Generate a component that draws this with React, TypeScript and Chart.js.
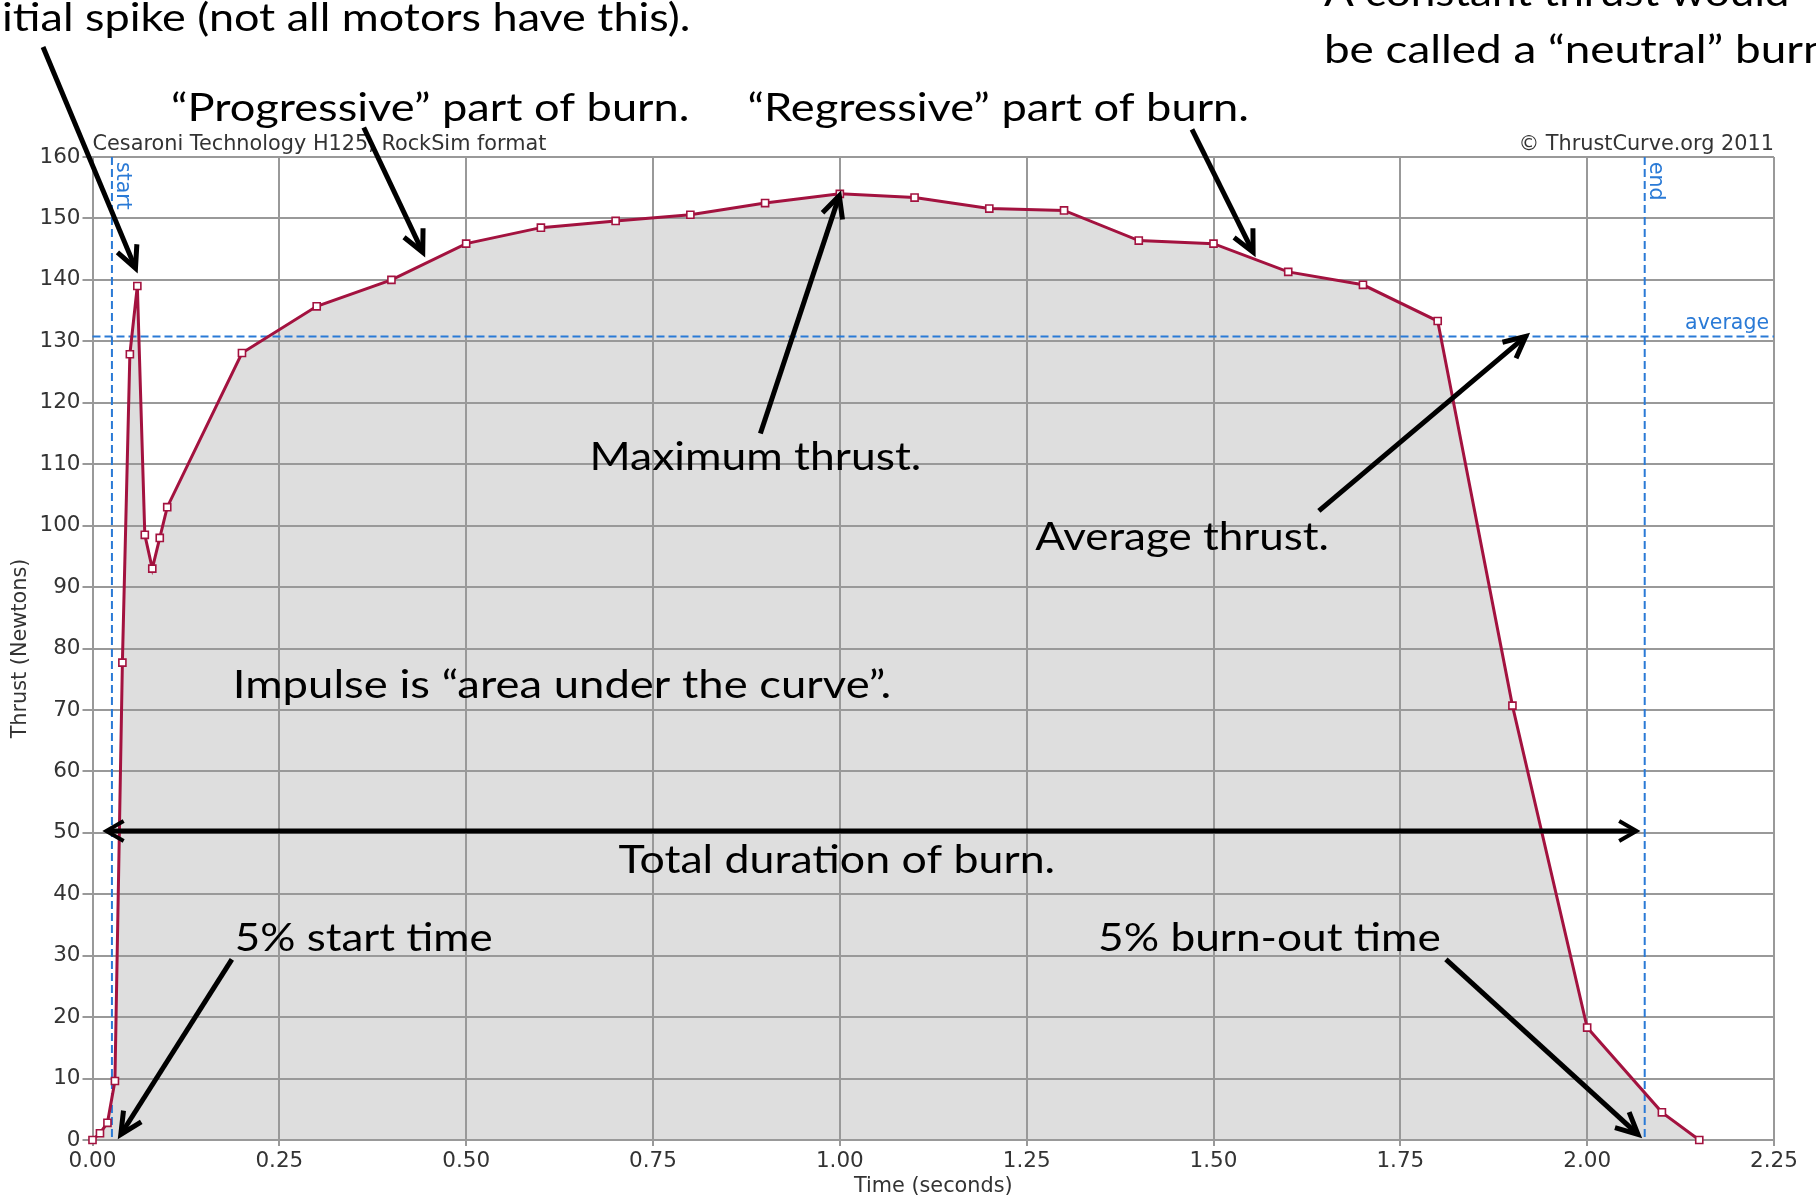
import React, { useEffect, useRef } from 'react';
import { Chart, registerables } from 'chart.js';

Chart.register(...registerables);

// ---------------- data ----------------
const TIME_S = [0, 0.01, 0.02, 0.03, 0.04, 0.05, 0.06, 0.07, 0.08, 0.09, 0.1, 0.2, 0.3, 0.4, 0.5, 0.6, 0.7, 0.8, 0.9, 1.0, 1.1, 1.2, 1.3, 1.4, 1.5, 1.6, 1.7, 1.8, 1.9, 2.0, 2.1, 2.15];
const THRUST_N = [0, 1.1, 2.8, 9.6, 77.7, 127.9, 139.0, 98.5, 93.0, 98.0, 103.0, 128.1, 135.7, 140.0, 145.9, 148.5, 149.6, 150.6, 152.5, 154.0, 153.4, 151.6, 151.3, 146.4, 145.9, 141.3, 139.2, 133.3, 70.7, 18.3, 4.5, 0];

const START_TIME = 0.026;
const END_TIME = 2.077;
const AVG_THRUST = 130.8;
const MARKER_LABELS = ['start', 'end', 'average'];

const X_MIN = 0;
const X_MAX = 2.25;
const X_STEP = 0.25;
const Y_MIN = 0;
const Y_MAX = 160;
const Y_STEP = 10;

const CHART_TITLE = 'Cesaroni Technology H125, RockSim format';
const COPYRIGHT = '© ThrustCurve.org 2011';
const X_TITLE = 'Time (seconds)';
const Y_TITLE = 'Thrust (Newtons)';

const NOTE_TEXTS = [
  'Initial spike (not all motors have this).',
  '“Progressive” part of burn.',
  '“Regressive” part of burn.',
  'A constant thrust would',
  'be called a “neutral” burn',
  'Maximum thrust.',
  'Average thrust.',
  'Impulse is “area under the curve”.',
  'Total duration of burn.',
  '5% start time',
  '5% burn-out time',
];

// ---------------- annotation layout (data units: [tLeft, tRight, baseline thrust]) ----------------
const NOTE_BOXES: Array<[number, number, number]> = [
  [-0.121, 0.8001, 180.5],
  [0.1049, 0.7988, 165.8],
  [0.8763, 1.5475, 165.8],
  [1.6477, 2.2707, 184.5],
  [1.6477, 2.323, 175.3],
  [0.6651, 1.109, 109.1],
  [1.2614, 1.6544, 96.1],
  [0.1878, 1.0689, 72.0],
  [0.7039, 1.2881, 43.5],
  [0.1905, 0.5354, 30.8],
  [1.3456, 1.8041, 30.8],
];
const NOTE_HIDDEN_PREFIX = [2, 0, 0, 0, 0, 0, 0, 0, 0, 0, 0];

const ARROWS: Array<{ from: [number, number]; to: [number, number]; both?: boolean }> = [
  { from: [-0.0662, 177.9], to: [0.0575, 141.9] },
  { from: [0.363, 164.8], to: [0.4419, 144.5] },
  { from: [1.4712, 164.5], to: [1.553, 144.5] },
  { from: [0.8937, 115.0], to: [0.9993, 153.7] },
  { from: [1.641, 102.4], to: [1.9178, 130.8] },
  { from: [0.0185, 50.3], to: [2.066, 50.3], both: true },
  { from: [0.1865, 29.4], to: [0.0379, 0.9] },
  { from: [1.811, 29.4], to: [2.068, 0.9] },
];

// ---------------- styles ----------------
const LINE_COLOR = '#a3123f';
const FILL_COLOR = '#dedede';
const GRID_COLOR = '#999999';
const MARKER_COLOR = '#2a7ad6';
const TEXT_COLOR = '#333333';
const CHART_FONT = 'DejaVu Sans';
const NOTE_FONT = '38px Lato';

function drawArrowHead(ctx: CanvasRenderingContext2D, x1: number, y1: number, x2: number, y2: number, L = 24, deg = 26) {
  const ang = Math.atan2(y2 - y1, x2 - x1);
  const a = (deg * Math.PI) / 180;
  ctx.beginPath();
  ctx.moveTo(x2 - L * Math.cos(ang - a), y2 - L * Math.sin(ang - a));
  ctx.lineTo(x2, y2);
  ctx.lineTo(x2 - L * Math.cos(ang + a), y2 - L * Math.sin(ang + a));
  ctx.stroke();
}

const overlayPlugin = {
  id: 'overlay',
  beforeDatasetsDraw(chart: any) {
    const { ctx, chartArea } = chart;
    const xs = chart.scales.x;
    const ys = chart.scales.y;
    ctx.save();
    ctx.strokeStyle = MARKER_COLOR;
    ctx.lineWidth = 2;
    ctx.setLineDash([8, 4]);
    const yAvg = ys.getPixelForValue(AVG_THRUST);
    ctx.beginPath();
    ctx.moveTo(chartArea.left, yAvg);
    ctx.lineTo(chartArea.right, yAvg);
    ctx.stroke();
    for (const t of [START_TIME, END_TIME]) {
      const x = xs.getPixelForValue(t);
      ctx.beginPath();
      ctx.moveTo(x, chartArea.top);
      ctx.lineTo(x, chartArea.bottom);
      ctx.stroke();
    }
    ctx.setLineDash([]);
    ctx.fillStyle = MARKER_COLOR;
    ctx.font = `20.5px "${CHART_FONT}"`;
    ctx.textBaseline = 'alphabetic';
    [START_TIME, END_TIME].forEach((t, i) => {
      const x = xs.getPixelForValue(t);
      ctx.save();
      ctx.translate(x + 5, chartArea.top + 5);
      ctx.rotate(Math.PI / 2);
      ctx.textAlign = 'left';
      ctx.fillText(MARKER_LABELS[i], 0, 0);
      ctx.restore();
    });
    ctx.textAlign = 'right';
    ctx.fillText(MARKER_LABELS[2], chartArea.right - 5, yAvg - 7);
    ctx.restore();
  },
  afterDraw(chart: any) {
    const { ctx, chartArea } = chart;
    const xs = chart.scales.x;
    const ys = chart.scales.y;
    ctx.save();
    ctx.fillStyle = TEXT_COLOR;
    ctx.font = `20.8px "${CHART_FONT}"`;
    ctx.textBaseline = 'alphabetic';
    ctx.textAlign = 'left';
    ctx.fillText(CHART_TITLE, chartArea.left, chartArea.top - 7);
    ctx.textAlign = 'right';
    ctx.fillText(COPYRIGHT, chartArea.right, chartArea.top - 7);

    ctx.fillStyle = '#000';
    ctx.font = NOTE_FONT;
    ctx.textAlign = 'left';
    NOTE_TEXTS.forEach((text, i) => {
      const [tl, tr, f] = NOTE_BOXES[i];
      const xl = xs.getPixelForValue(tl);
      const yb = ys.getPixelForValue(f);
      const hidden = NOTE_HIDDEN_PREFIX[i];
      const visible = text.slice(hidden);
      const wVis = ctx.measureText(visible).width;
      const wPre = ctx.measureText(text.slice(0, hidden)).width;
      const sx = (xs.getPixelForValue(tr) - xl) / wVis;
      ctx.save();
      ctx.translate(xl - wPre * sx, yb);
      ctx.scale(sx, 1);
      ctx.fillText(text, 0, 0);
      ctx.restore();
    });

    ctx.strokeStyle = '#000';
    ctx.lineWidth = 5;
    ctx.lineJoin = 'miter';
    ctx.lineCap = 'butt';
    for (const a of ARROWS) {
      const x1 = xs.getPixelForValue(a.from[0]);
      const y1 = ys.getPixelForValue(a.from[1]);
      const x2 = xs.getPixelForValue(a.to[0]);
      const y2 = ys.getPixelForValue(a.to[1]);
      const len = Math.hypot(x2 - x1, y2 - y1);
      const ux = (x2 - x1) / len;
      const uy = (y2 - y1) / len;
      const s = a.both ? 2 : 0;
      ctx.beginPath();
      ctx.moveTo(x1 + ux * s, y1 + uy * s);
      ctx.lineTo(x2 - ux * 2, y2 - uy * 2);
      ctx.stroke();
      if (a.both) {
        ctx.lineWidth = 4;
        drawArrowHead(ctx, x1, y1, x2, y2, 20, 30);
        drawArrowHead(ctx, x2, y2, x1, y1, 20, 30);
        ctx.lineWidth = 5;
      } else {
        drawArrowHead(ctx, x1, y1, x2, y2);
      }
    }
    ctx.restore();
  },
};

export default function App() {
  const ref = useRef<HTMLCanvasElement>(null);
  useEffect(() => {
    if (!ref.current) return;
    Chart.defaults.font.family = CHART_FONT;
    const chart = new Chart(ref.current, {
      type: 'line',
      data: {
        datasets: [
          {
            data: TIME_S.map((t, i) => ({ x: t, y: THRUST_N[i] })),
            borderColor: LINE_COLOR,
            borderWidth: 3,
            backgroundColor: FILL_COLOR,
            fill: 'origin',
            tension: 0,
            pointStyle: 'rect',
            pointRadius: 5,
            pointBackgroundColor: '#ffffff',
            pointBorderColor: LINE_COLOR,
            pointBorderWidth: 1.6,
            clip: false as any,
          },
        ],
      },
      options: {
        responsive: false,
        devicePixelRatio: 1,
        animation: false,
        layout: { padding: { left: 0, right: 42, top: 157, bottom: 0 } },
        plugins: {
          legend: { display: false },
          tooltip: { enabled: false },
          filler: { drawTime: 'beforeDraw' } as any,
        },
        scales: {
          x: {
            type: 'linear',
            min: X_MIN,
            max: X_MAX,
            ticks: {
              stepSize: X_STEP,
              autoSkip: false,
              maxRotation: 0,
              padding: 3,
              color: TEXT_COLOR,
              font: { family: CHART_FONT, size: 21.5 },
              callback: (v: any) => Number(v).toFixed(2),
            },
            grid: { color: GRID_COLOR, lineWidth: 2, tickLength: 6 },
            border: { display: true, color: GRID_COLOR, width: 2 },
            title: {
              display: true,
              text: X_TITLE,
              color: TEXT_COLOR,
              font: { family: CHART_FONT, size: 20.8 },
              padding: { top: 0, bottom: 2 },
            },
            afterFit: (s: any) => {
              s.height = 61;
            },
          },
          y: {
            type: 'linear',
            min: Y_MIN,
            max: Y_MAX,
            ticks: {
              stepSize: Y_STEP,
              autoSkip: false,
              padding: 2,
              color: TEXT_COLOR,
              font: { family: CHART_FONT, size: 21.5 },
            },
            grid: { color: GRID_COLOR, lineWidth: 2, tickLength: 10 },
            border: { display: true, color: GRID_COLOR, width: 2 },
            title: {
              display: true,
              text: Y_TITLE,
              color: TEXT_COLOR,
              font: { family: CHART_FONT, size: 20.8 },
              padding: { top: 8, bottom: 0 },
            },
            afterFit: (s: any) => {
              s.width = 92.5;
            },
          },
        },
      },
      plugins: [overlayPlugin],
    });
    return () => chart.destroy();
  }, []);
  return (
    <div style={{ position: 'fixed', left: 0, top: 0, width: 1816, height: 1201, background: '#ffffff' }}>
      <canvas ref={ref} width={1816} height={1201} style={{ display: 'block', width: 1816, height: 1201 }} />
    </div>
  );
}
